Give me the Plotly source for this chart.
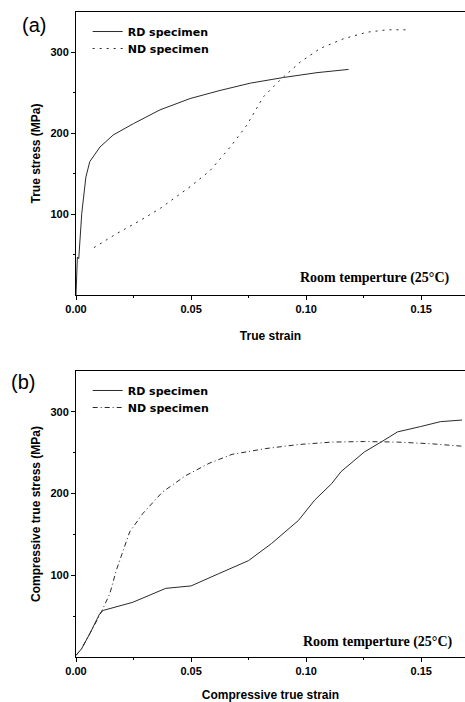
import plotly.graph_objects as go

# Panel (a): tensile
a_rd_strain = [0.0, 0.0006, 0.0012, 0.0025, 0.0043, 0.006, 0.0104, 0.0162, 0.025, 0.0365, 0.0496, 0.0626, 0.0757, 0.0901, 0.1047, 0.1184]
a_rd_stress = [0, 47, 45, 101, 146, 165, 183, 198, 212, 229, 243, 253, 262, 269, 275, 279]
a_nd_strain = [0.0078, 0.0177, 0.0278, 0.0365, 0.0496, 0.0583, 0.067, 0.0742, 0.0814, 0.0887, 0.0974, 0.1061, 0.1163, 0.1264, 0.1351, 0.144]
a_nd_stress = [58.6, 76, 92, 107, 134, 154, 183, 210, 245, 266, 288, 305, 317, 325, 328, 328]

# Panel (b): compressive
b_rd_strain = [0.0, 0.0024, 0.006, 0.0103, 0.0118, 0.0247, 0.039, 0.05, 0.062, 0.075, 0.085, 0.0966, 0.1037, 0.111, 0.1152, 0.1253, 0.1325, 0.1397, 0.1497, 0.1583, 0.1677]
b_rd_stress = [2, 10, 28.6, 53, 57, 67, 84, 87, 102, 118, 139, 167, 192, 212, 227, 251, 263, 275.5, 282, 288, 290]
b_nd_strain = [0.0, 0.0024, 0.006, 0.011, 0.0147, 0.0175, 0.0233, 0.029, 0.0376, 0.0477, 0.0578, 0.0678, 0.0822, 0.0966, 0.111, 0.1253, 0.1397, 0.154, 0.1677]
b_nd_stress = [2, 10, 28.6, 55, 77.5, 106, 153, 175.5, 202, 222, 237, 248, 255, 260, 263, 263.7, 263, 261, 258]

x_ticks = [0.0, 0.05, 0.10, 0.15]
x_ticklabels = ["0.00", "0.05", "0.10", "0.15"]
y_ticks = [100, 200, 300]

LINE = "#2a2a2a"
fig = go.Figure()
fig.add_trace(go.Scatter(x=a_rd_strain, y=a_rd_stress, mode="lines", name="RD specimen",
                         line=dict(color=LINE, width=1), xaxis="x", yaxis="y", legend="legend"))
fig.add_trace(go.Scatter(x=a_nd_strain, y=a_nd_stress, mode="lines", name="ND specimen",
                         line=dict(color=LINE, width=1, dash="2px,5px"), xaxis="x", yaxis="y", legend="legend2"))
fig.add_trace(go.Scatter(x=b_rd_strain, y=b_rd_stress, mode="lines", name="RD specimen",
                         line=dict(color=LINE, width=1), xaxis="x2", yaxis="y2", legend="legend3"))
fig.add_trace(go.Scatter(x=b_nd_strain, y=b_nd_stress, mode="lines", name="ND specimen",
                         line=dict(color=LINE, width=1, dash="5px,3px,1px,3px"), xaxis="x2", yaxis="y2", legend="legend4"))

tickfont = dict(family="Liberation Sans, Arial", size=11, color="black", weight="bold")
titlefont = dict(family="Liberation Sans, Arial", size=12, color="black", weight="bold")

def xax(anchor, title):
    return dict(range=[0, 0.169], domain=[0, 1], tickvals=x_ticks, ticktext=x_ticklabels, ticks="outside", ticklen=4,
                tickcolor="black", showline=True, linecolor="black", linewidth=1, mirror=True,
                showgrid=False, zeroline=False, tickfont=tickfont, anchor=anchor, automargin=False,
                minor=dict(tickvals=[0.025, 0.075, 0.125], ticks="outside", ticklen=2, tickcolor="black"),
                title=dict(text=title, font=titlefont, standoff=17))

def yax(domain, anchor, title):
    return dict(range=[0, 350], tickvals=y_ticks, ticks="outside", ticklen=4, tickcolor="black",
                showline=True, linecolor="black", linewidth=1, showgrid=False, zeroline=False,
                tickfont=tickfont, domain=domain, anchor=anchor, automargin=False,
                minor=dict(tickvals=[50, 150, 250], ticks="outside", ticklen=2, tickcolor="black"),
                title=dict(text=title, font=titlefont, standoff=7))

legfont = dict(family="DejaVu Sans", size=11, color="black", weight="bold")

def leg(y):
    return dict(x=0.03, y=y, xanchor="left", yanchor="top", bgcolor="rgba(0,0,0,0)",
                font=legfont, itemwidth=30)

fig.update_layout(
    width=465, height=702,
    margin=dict(l=76, r=0, t=12, b=45),
    paper_bgcolor="white", plot_bgcolor="white",
    xaxis=xax("y", "True strain"),
    yaxis=yax([0.5612, 1.0], "x", "True stress (MPa)"),
    xaxis2=xax("y2", "Compressive true strain"),
    yaxis2=yax([0.0, 0.4434], "x2", "Compressive true stress (MPa)"),
    legend=leg(0.9922), legend2=leg(0.9659), legend3=leg(0.4357), legend4=leg(0.4093),
    showlegend=True,
)

ann_serif = dict(family="Liberation Serif, Times New Roman", size=14, color="black", weight="bold")
labfont = dict(family="Liberation Sans, Arial", size=20, color="black")
fig.add_annotation(text="(a)", x=-0.108, y=0.98, xref="paper", yref="paper", showarrow=False,
                   xanchor="center", yanchor="middle", font=labfont)
fig.add_annotation(text="(b)", x=-0.136, y=0.426, xref="paper", yref="paper", showarrow=False,
                   xanchor="center", yanchor="middle", font=labfont)
fig.add_annotation(text="Room temperture (25°C)", x=0.967, y=0.5876, xref="paper", yref="paper",
                   xanchor="right", yanchor="middle", showarrow=False, font=ann_serif)
fig.add_annotation(text="Room temperture (25°C)", x=0.975, y=0.0233, xref="paper", yref="paper",
                   xanchor="right", yanchor="middle", showarrow=False, font=ann_serif)

fig.write_html("out.html", config={"displayModeBar": False},
               post_script="document.body.style.margin='0px';")
